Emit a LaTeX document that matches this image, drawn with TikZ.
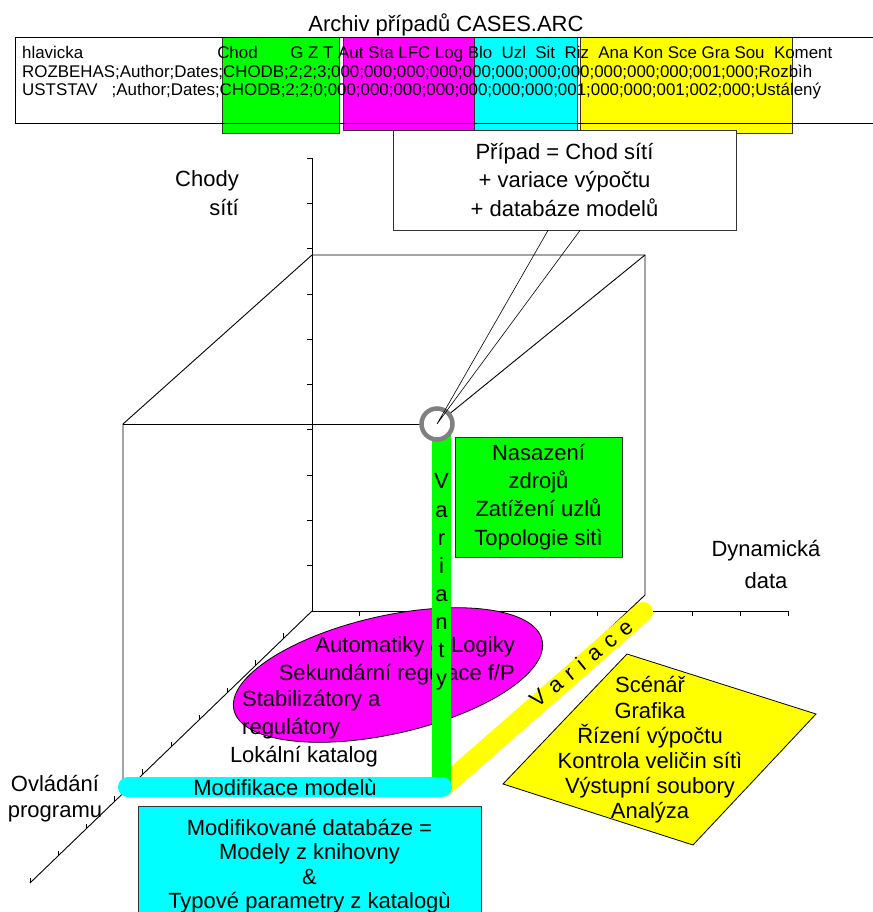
\documentclass[tikz,border=0pt]{standalone}
\usepackage{fontspec}
\setmainfont{Liberation Sans}
\usetikzlibrary{calc}
\definecolor{CaseGreen}{HTML}{00FF00}
\definecolor{CaseMagenta}{HTML}{FF00FF}
\definecolor{CaseCyan}{HTML}{00FFFF}
\definecolor{CaseYellow}{HTML}{FFFF00}
\definecolor{CaseRing}{HTML}{808080}
\tikzset{
  axisline/.style={line width=0.9pt,black},
  tickmark/.style={line width=0.8pt,black},
  txt/.style={inner sep=0pt,font=\fontsize{22}{28.3}\selectfont,align=center},
  smalltxt/.style={inner sep=0pt,font=\fontsize{16.9}{18.4}\selectfont},
  colbox/.style={draw=black!80,line width=0.6pt},
  panel/.style={txt,draw=black!80,line width=0.8pt}
}

\begin{document}
\begin{tikzpicture}[x=1pt,y=-1pt]
  \useasboundingbox (0,0) rectangle (872,912);

  \node[txt,anchor=base] (title) at (446,32) {Archiv případů CASES.ARC};
  \filldraw[colbox,fill=CaseGreen] (222,37) rectangle (339,133);
  \filldraw[colbox,fill=CaseMagenta] (343,37) rectangle (474,130);
  \filldraw[colbox,fill=CaseCyan] (474,37) rectangle (577,130);
  \filldraw[colbox,fill=CaseYellow] (580,37) rectangle (792,133);
  \draw[line width=0.9pt] (15,37) rectangle (876,123);
  \node[smalltxt,anchor=base west] (head) at (22,59)
    {hlavicka\hspace{134pt}Chod\hspace{32.7pt}G Z T Aut Sta LFC Log Blo\ \ Uzl\ \ Sit\ \ Riz\ \ Ana Kon Sce Gra Sou\ \ Koment};
  \node[smalltxt,anchor=base west] (rowA) at (22,77.5)
    {ROZBEHAS;Author;Dates;CHODB;2;2;3;000;000;000;000;000;000;000;000;000;000;000;001;000;Rozbìh};
  \node[smalltxt,anchor=base west] (rowB) at (22,96)
    {USTSTAV\ \ \ ;Author;Dates;CHODB;2;2;0;000;000;000;000;000;000;000;001;000;000;001;002;000;Ustálený};

  \coordinate (O) at (312,611);
  \coordinate (ftr) at (437,424);
  \draw[axisline] (312,158) -- (O) -- (788,611);
  \draw[axisline] (O) -- (30,883);
  \foreach \k in {0,...,9}
    \draw[tickmark] (307,{158+45.3*\k}) -- (312,{158+45.3*\k});
  \foreach \k in {1,...,10}
    \draw[tickmark] ({312+47.6*\k},611) -- ++(0,5);
  \foreach \k in {1,...,10}
    \draw[tickmark] ({312-28.2*\k},{611+27.2*\k}) -- ++(0,-5);
  \draw[axisline] (123,791) -- (123,424) -- (312,255) -- (645,255) -- (645,595) -- (443,787);
  \draw[axisline] (123,424) -- (ftr);
  \draw[axisline] (645,255) -- (ftr);

  \filldraw[fill=CaseMagenta,draw=black,line width=0.8pt,rotate around={12.75:(388,675)}]
    (388,675) ellipse (158 and 59);
  \node[txt,align=right,anchor=east] (ctrl) at (515,661) {Automatiky \& Logiky\\Sekundární regulace f/P};
  \node[txt,align=left,anchor=west] (stab) at (242,715) {Stabilizátory a\\regulátory};
  \node[txt,anchor=base] (catalog) at (304,762) {Lokální katalog};

  \draw[CaseYellow,line width=20pt,line cap=round] (443,787) -- (643,612);
  \node[txt,rotate=39] (vary) at (581,663)
    {V\kern8.5pt a\kern8.5pt r\kern8.5pt i\kern8.5pt a\kern8.5pt c\kern8.5pt e};
  \fill[CaseGreen] (432,430) rectangle (451,787);
  \node[txt,font=\fontsize{22}{28.1}\selectfont] (variant) at (441.5,582) {V\\a\\r\\i\\a\\n\\t\\y};
  \node[txt,fill=CaseCyan,rounded corners=10pt,minimum width=334,minimum height=20] (modbar) at (285,787)
    {Modifikace modelù};

  \node[circle,draw=CaseRing,fill=white,line width=4.5pt,minimum size=31,inner sep=0pt] (pick) at (ftr) {};
  \node[panel,fill=white,minimum width=343,minimum height=100] (case) at (564.5,180)
    {Případ = Chod sítí\\+ variace výpočtu\\+ databáze modelů};
  \draw[line width=0.6pt] ($(case.south)+(-16.5,0)$) -- (pick.center) -- ($(case.south)+(15.5,0)$);

  \node[panel,fill=CaseGreen,minimum width=167,minimum height=120] (deploy) at (538.5,497)
    {Nasazení\\zdrojů\\Zatížení uzlů\\Topologie sitì};
  \filldraw[fill=CaseYellow,draw=black,line width=0.8pt] (627,654) -- (816,714) -- (693,845) -- (503,784) -- cycle;
  \node[txt,font=\fontsize{22}{25.2}\selectfont] (tools) at (650,750)
    {Scénář\\Grafika\\Řízení výpočtu\\Kontrola veličin sítì\\Výstupní soubory\\Analýza};
  \node[panel,fill=CaseCyan,minimum width=343,minimum height=120,font=\fontsize{22}{24.5}\selectfont] (moddb) at (309.5,866)
    {Modifikované databáze =\\Modely z knihovny\\\&\\Typové parametry z katalogù};

  \node[txt,font=\fontsize{22}{29}\selectfont,align=right,anchor=east] (runaxis) at (239,193) {Chody\\sítí};
  \node[txt,font=\fontsize{22}{32}\selectfont] (dynaxis) at (766,565) {Dynamická\\data};
  \node[txt,font=\fontsize{22}{26}\selectfont] (ctrlaxis) at (55,799) {Ovládání\\programu};
\end{tikzpicture}
\end{document}
